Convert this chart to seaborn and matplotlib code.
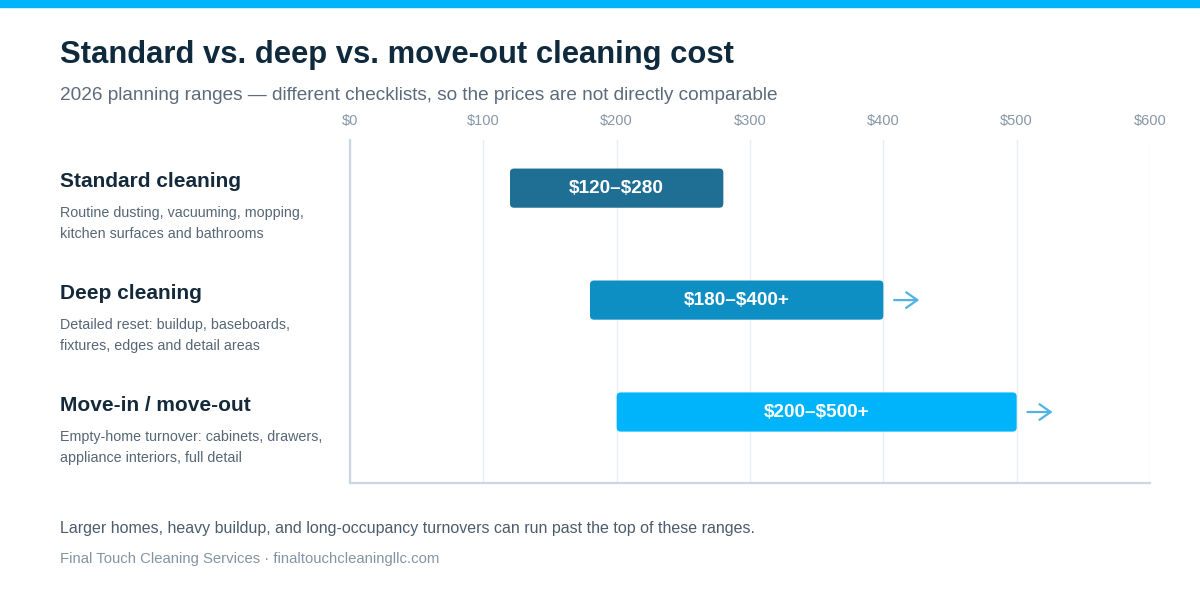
import matplotlib
matplotlib.use("Agg")
import matplotlib.pyplot as plt
from matplotlib.patches import FancyBboxPatch
import seaborn as sns
import pandas as pd

# --- data ---
categories = ["Standard cleaning", "Deep cleaning", "Move-in / move-out"]
descriptions = [
    "Routine dusting, vacuuming, mopping,\nkitchen surfaces and bathrooms",
    "Detailed reset: buildup, baseboards,\nfixtures, edges and detail areas",
    "Empty-home turnover: cabinets, drawers,\nappliance interiors, full detail",
]
low = [120, 180, 200]
high = [280, 400, 500]
open_ended = [False, True, True]
bar_labels = ["$120\u2013$280", "$180\u2013$400+", "$200\u2013$500+"]
tick_values = [0, 100, 200, 300, 400, 500, 600]
tick_labels = ["$0", "$100", "$200", "$300", "$400", "$500", "$600"]
colors = ["#1f6e94", "#0e8fc4", "#00b4fb"]

df = pd.DataFrame({"category": categories, "low": low, "high": high})

sns.set_theme(style="white")
plt.rcParams["font.family"] = ["Liberation Sans", "DejaVu Sans"]

fig = plt.figure(figsize=(12, 6), dpi=100)
fig.patch.set_facecolor("white")
ax = fig.add_axes([350 / 1200, 1 - 483 / 600, 800 / 1200, 343 / 600])

sns.barplot(data=df, x="high", y="category", hue="category", palette=colors,
            orient="h", width=0.35, legend=False, ax=ax)

# turn bars into rounded ranges low..high
for p, lo, hi, c in zip(list(ax.patches), df["low"], df["high"], colors):
    y0, h = p.get_y(), p.get_height()
    p.remove()
    rb = FancyBboxPatch((lo, y0), hi - lo, h,
                        boxstyle="round,pad=0,rounding_size=3",
                        mutation_aspect=0.012, facecolor=c, edgecolor="none",
                        zorder=3)
    ax.add_patch(rb)

ax.set_xlim(0, 600)
ax.set_ylim(2.634, -0.43)

for i, (lo, hi, lab, oe) in enumerate(zip(low, high, bar_labels, open_ended)):
    ax.text((lo + hi) / 2, i, lab, ha="center", va="center", color="white",
            fontsize=13.7, fontweight="bold", zorder=4, parse_math=False)
    if oe:
        ax.annotate("", xy=(hi + 29, i), xytext=(hi + 6, i),
                    arrowprops=dict(arrowstyle="->,head_length=0.5,head_width=0.35",
                                    color="#4fb3e3", lw=1.6, mutation_scale=16))

# left labels
for i, (cat, desc) in enumerate(zip(categories, descriptions)):
    ax.annotate(cat, xy=(60 / 1200, i), xycoords=("figure fraction", "data"),
                xytext=(0, 5), textcoords="offset points", ha="left",
                va="center", fontsize=15, fontweight="bold", color="#142a3b",
                annotation_clip=False)
    ax.annotate(desc, xy=(60 / 1200, i), xycoords=("figure fraction", "data"),
                xytext=(0, -13), textcoords="offset points", ha="left",
                va="top", fontsize=10.3, color="#566676", linespacing=1.6,
                annotation_clip=False)

ax.xaxis.tick_top()
ax.set_xticks(tick_values)
ax.set_xticklabels(tick_labels)
ax.tick_params(axis="x", length=0, pad=9, labelsize=10.5, labelcolor="#8797a7")
ax.set_yticks([])
ax.set_xlabel("")
ax.set_ylabel("")
ax.grid(axis="x", color="#e9eef3", lw=1, zorder=0)
ax.set_axisbelow(True)
for s in ["top", "right"]:
    ax.spines[s].set_visible(False)
for s in ["left", "bottom"]:
    ax.spines[s].set_color("#cbd7e2")
    ax.spines[s].set_linewidth(1.6)

# top stripe
fig.add_artist(plt.Rectangle((0, 1 - 7 / 600), 1, 7 / 600,
                             transform=fig.transFigure, color="#00b4fb"))

fig.text(60 / 1200, 1 - 55 / 600, "Standard vs. deep vs. move-out cleaning cost",
         fontsize=22.3, fontweight="bold", color="#0f2a3d", va="center")
fig.text(60 / 1200, 1 - 95 / 600,
         "2026 planning ranges \u2014 different checklists, so the prices are not directly comparable",
         fontsize=13.7, color="#5b6b7b", va="center")
fig.text(60 / 1200, 1 - 528 / 600,
         "Larger homes, heavy buildup, and long-occupancy turnovers can run past the top of these ranges.",
         fontsize=11.5, color="#4c5c6c", va="center")
fig.text(60 / 1200, 1 - 559 / 600,
         "Final Touch Cleaning Services \u00b7 finaltouchcleaningllc.com",
         fontsize=10.7, color="#8494a4", va="center")

fig.savefig("out.png", dpi=100, facecolor="white")
